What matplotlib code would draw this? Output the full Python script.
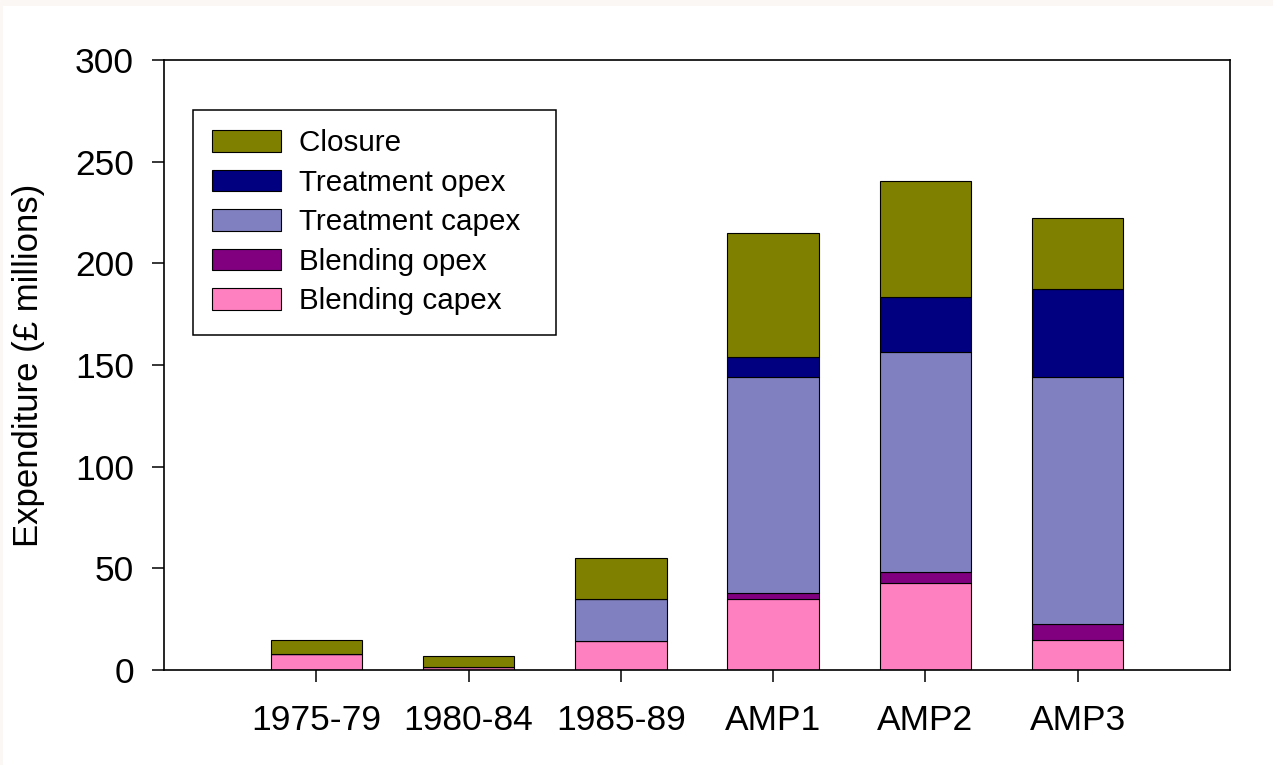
import numpy as np
import matplotlib
matplotlib.use("Agg")
import matplotlib.pyplot as plt
from matplotlib.patches import Rectangle

# Periods
periods = ["1975-79", "1980-84", "1985-89", "AMP1", "AMP2", "AMP3"]

# Expenditure by component (£ millions), stacked bottom to top
blending_capex = [7.7, 1.3, 14.1, 34.9, 43.0, 14.6]
blending_opex = [0.0, 0.0, 0.0, 2.8, 5.0, 7.9]
treatment_capex = [0.0, 0.0, 21.0, 106.3, 108.4, 121.6]
treatment_opex = [0.0, 0.0, 0.0, 10.0, 27.1, 43.4]
closure = [7.3, 5.7, 19.8, 61.1, 57.2, 35.0]

series = [
    ("Blending capex", blending_capex, "#FF80C0"),
    ("Blending opex", blending_opex, "#800080"),
    ("Treatment capex", treatment_capex, "#8080C0"),
    ("Treatment opex", treatment_opex, "#000080"),
    ("Closure", closure, "#808000"),
]

plt.rcParams['font.family'] = ['Liberation Sans', 'DejaVu Sans']

fig = plt.figure(figsize=(12.73, 7.65), dpi=100, facecolor="white")
ax = fig.add_axes([164/1273, 1 - 670/765, (1230-164)/1273, (670-60)/765])

# faint off-white strip along the top and left edges
fig.patches.append(Rectangle((0, 1 - 6/765), 1, 6/765, transform=fig.transFigure,
                             facecolor="#fbf7f5", edgecolor="none", zorder=-1))
fig.patches.append(Rectangle((0, 0), 3/1273, 1, transform=fig.transFigure,
                             facecolor="#fbf7f5", edgecolor="none", zorder=-1))

x = np.arange(1, len(periods) + 1)
bottom = np.zeros(len(periods))
handles = {}
for label, vals, color in series:
    vals = np.array(vals)
    b = ax.bar(x, vals, width=0.6, bottom=bottom, color=color,
               edgecolor="black", linewidth=0.8, label=label)
    handles[label] = b
    bottom += vals

ax.set_xlim(0, 7)
ax.set_ylim(0, 300)
ax.set_yticks(np.arange(0, 301, 50))
ax.set_xticks(x)
ax.set_xticklabels(periods)
ax.tick_params(axis="both", direction="out", length=8.5, width=1.1,
               labelsize=25.5)
ax.tick_params(axis="y", pad=13)
ax.tick_params(axis="x", pad=16)
for s in ax.spines.values():
    s.set_linewidth(1.2)

ax.set_ylabel("Expenditure (£ millions)", fontsize=25, labelpad=22)

order = ["Closure", "Treatment opex", "Treatment capex", "Blending opex", "Blending capex"]
leg = ax.legend([handles[k] for k in order], [k + "  " for k in order],
                loc="upper left",
                bbox_to_anchor=(0.027, 0.918), borderaxespad=0,
                fontsize=21.3, frameon=True, fancybox=False, shadow=False,
                handlelength=2.33, handleheight=0.74, handletextpad=0.6,
                labelspacing=0.39, borderpad=0.65)
leg.get_frame().set_edgecolor("black")
leg.get_frame().set_linewidth(1.1)
leg.get_frame().set_alpha(1)

fig.savefig("out.png", dpi=100, facecolor=fig.get_facecolor())
